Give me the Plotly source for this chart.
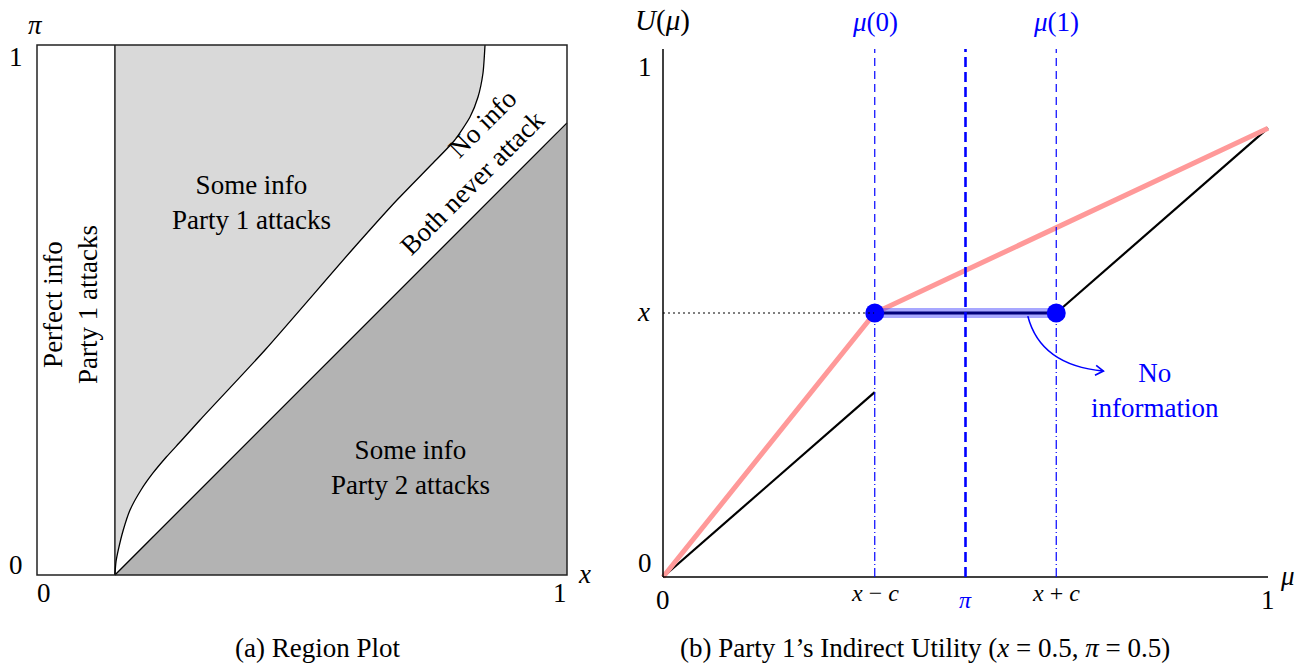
import plotly.graph_objects as go

W, H = 1299, 663
FONT = "Liberation Serif"

# ---------------- Panel (a): region plot ----------------
c_left = 0.147
curve_x = [0.147, 0.149, 0.1534, 0.1628, 0.1755, 0.1962, 0.2189, 0.2440, 0.2717, 0.3075,
           0.4302, 0.5943, 0.6792, 0.7453, 0.7868, 0.8170, 0.8321, 0.8415, 0.8453]
curve_pi = [0.0, 0.0245, 0.0472, 0.0849, 0.1226, 0.1604, 0.1925, 0.2226, 0.2528, 0.2925,
            0.4245, 0.6132, 0.7075, 0.7755, 0.8189, 0.8642, 0.9019, 0.9472, 1.0]
diag_x = [c_left, 1.0]
diag_pi = [0.0, 1.0 - c_left]

# ---------------- Panel (b): indirect utility ----------------
x_level = 0.5
mu_lo, mu_pi, mu_hi = 0.35, 0.5, 0.65
black1_mu = [0.0, 0.35]
black1_u = [0.0, 0.35]
black2_mu = [0.65, 1.0]
black2_u = [0.5, 0.85]
pink_mu = [0.0, 0.35, 1.0]
pink_u = [0.0, 0.5, 0.85]
arrow_path = [(0.603, 0.494), (0.624, 0.401), (0.728, 0.390)]
arrow_head = [(0.716, 0.401), (0.728, 0.390), (0.714, 0.382)]


def dom_x(px0, px1):
    return [px0 / W, px1 / W]


def dom_y(py_bottom, py_top):
    return [(H - py_bottom) / H, (H - py_top) / H]


fig = go.Figure()

pad = 0.01
fig.update_layout(
    xaxis=dict(domain=dom_x(37 - 530 * pad, 567 + 530 * pad), range=[-pad, 1 + pad],
               visible=False, fixedrange=True),
    yaxis=dict(domain=dom_y(575 + 530 * pad, 45 - 530 * pad), range=[-pad, 1 + pad],
               visible=False, fixedrange=True),
    xaxis2=dict(domain=dom_x(663 - 605 * 0.02, 1268 + 605 * 0.02), range=[-0.02, 1.02],
                visible=False, fixedrange=True, anchor="y2"),
    yaxis2=dict(domain=dom_y(577 + 528 * 0.02, 49 - 528 * 0.02), range=[-0.02, 1.02],
                visible=False, fixedrange=True, anchor="x2"),
)

# --- left fills and boundaries
fig.add_trace(go.Scatter(x=[c_left, c_left], y=[0, 1], mode="lines",
                         line=dict(color="black", width=1.3), xaxis="x", yaxis="y",
                         hoverinfo="skip"))
fig.add_trace(go.Scatter(x=curve_x, y=curve_pi, mode="lines", fill="tonextx",
                         fillcolor="#d9d9d9",
                         line=dict(color="black", width=1.3, shape="spline", smoothing=0.6),
                         xaxis="x", yaxis="y", hoverinfo="skip"))
fig.add_trace(go.Scatter(x=diag_x + [1.0, c_left], y=diag_pi + [0.0, 0.0], mode="none",
                         fill="toself", fillcolor="#b3b3b3", xaxis="x", yaxis="y",
                         hoverinfo="skip"))
fig.add_trace(go.Scatter(x=diag_x, y=diag_pi, mode="lines",
                         line=dict(color="black", width=1.3), xaxis="x", yaxis="y",
                         hoverinfo="skip"))

shapes = []
shapes.append(dict(type="rect", xref="x", yref="y", x0=0, x1=1, y0=0, y1=1,
                   line=dict(color="#222", width=1.5), layer="above"))

# --- right panel
xr, yr = "x2", "y2"
shapes.append(dict(type="line", xref=xr, yref=yr, x0=0, x1=0, y0=0, y1=1.0,
                   line=dict(color="black", width=1.5)))
shapes.append(dict(type="line", xref=xr, yref=yr, x0=0, x1=1.0, y0=0, y1=0,
                   line=dict(color="black", width=1.5)))
shapes.append(dict(type="line", xref=xr, yref=yr, x0=0, x1=mu_lo, y0=x_level, y1=x_level,
                   line=dict(color="black", width=1, dash="2px,3px")))
for m in (mu_lo, mu_hi):
    shapes.append(dict(type="line", xref=xr, yref=yr, x0=m, x1=m, y0=x_level, y1=1.0,
                       line=dict(color="blue", width=1.2, dash="8px,5px")))
    shapes.append(dict(type="line", xref=xr, yref=yr, x0=m, x1=m, y0=0, y1=x_level,
                       line=dict(color="blue", width=1.2, dash="9px,3px,1px,3px")))
shapes.append(dict(type="line", xref=xr, yref=yr, x0=mu_pi, x1=mu_pi, y0=0, y1=1.0,
                   line=dict(color="blue", width=2.6, dash="10px,5px")))
(p0, p1, p2) = arrow_path
shapes.append(dict(type="path", xref=xr, yref=yr,
                   path=f"M {p0[0]},{p0[1]} Q {p1[0]},{p1[1]} {p2[0]},{p2[1]}",
                   line=dict(color="blue", width=1.6)))
(a0, a1, a2) = arrow_head
shapes.append(dict(type="path", xref=xr, yref=yr,
                   path=f"M {a0[0]},{a0[1]} L {a1[0]},{a1[1]} L {a2[0]},{a2[1]}",
                   line=dict(color="blue", width=1.6)))

fig.add_trace(go.Scatter(x=black1_mu, y=black1_u, mode="lines",
                         line=dict(color="black", width=2.2), xaxis=xr, yaxis=yr, hoverinfo="skip"))
fig.add_trace(go.Scatter(x=black2_mu, y=black2_u, mode="lines",
                         line=dict(color="black", width=2.2), xaxis=xr, yaxis=yr, hoverinfo="skip"))
fig.add_trace(go.Scatter(x=pink_mu, y=pink_u, mode="lines",
                         line=dict(color="#ff9999", width=5), xaxis=xr, yaxis=yr, hoverinfo="skip"))
fig.add_trace(go.Scatter(x=[mu_lo, mu_hi], y=[x_level, x_level], mode="lines",
                         line=dict(color="rgba(60,60,255,0.45)", width=10),
                         xaxis=xr, yaxis=yr, hoverinfo="skip"))
fig.add_trace(go.Scatter(x=[mu_lo, mu_hi], y=[x_level, x_level], mode="lines",
                         line=dict(color="#00007a", width=3),
                         xaxis=xr, yaxis=yr, hoverinfo="skip"))
fig.add_trace(go.Scatter(x=[mu_lo, mu_hi], y=[x_level, x_level], mode="markers",
                         marker=dict(color="blue", size=19), cliponaxis=False,
                         xaxis=xr, yaxis=yr, hoverinfo="skip"))

fig.update_layout(shapes=shapes)


def ann(px, py, text, size=27, color="black", angle=0):
    return dict(x=px / W, y=1 - py / H, xref="paper", yref="paper", text=text,
                showarrow=False, xanchor="center", yanchor="middle", textangle=angle,
                font=dict(family=FONT, size=size, color=color))


annotations = [
    ann(251, 202, "Some info<br>Party 1 attacks"),
    ann(410, 467, "Some info<br>Party 2 attacks"),
    ann(71, 305, "Perfect info<br>Party 1 attacks", angle=-90),
    ann(482, 124, "No info", angle=-45),
    ann(472, 183, "Both never attack", angle=-45),
    ann(44, 593, "0"), ann(560, 593, "1"),
    ann(16, 565, "0"), ann(16, 57, "1"),
    ann(35, 25, "<i>π</i>"), ann(584, 574, "<i>x</i>"),
    ann(317, 648, "(a) Region Plot"),
    ann(662, 20, "<i>U</i>(<i>μ</i>)", size=29),
    ann(875, 22, "<i>μ</i>(0)", color="blue"),
    ann(1056, 22, "<i>μ</i>(1)", color="blue"),
    ann(645, 67, "1"), ann(643, 312, "<i>x</i>"), ann(645, 563, "0"),
    ann(663, 600, "0"), ann(875, 593, "<i>x</i> − <i>c</i>", size=24),
    ann(965, 600, "<i>π</i>", size=24, color="blue"),
    ann(1056, 593, "<i>x</i> + <i>c</i>", size=24), ann(1268, 600, "1"),
    ann(1287, 576, "<i>μ</i>"),
    ann(1155, 390, "No<br>information", color="blue"),
    ann(925, 648, "(b) Party 1’s Indirect Utility (<i>x</i> = 0.5, <i>π</i> = 0.5)"),
]

fig.update_layout(
    annotations=annotations,
    width=W, height=H,
    margin=dict(l=0, r=0, t=0, b=0),
    paper_bgcolor="white", plot_bgcolor="rgba(0,0,0,0)",
    showlegend=False,
)

fig.write_html("out.html", config={"displayModeBar": False},
               post_script="document.body.style.margin='0px';")
